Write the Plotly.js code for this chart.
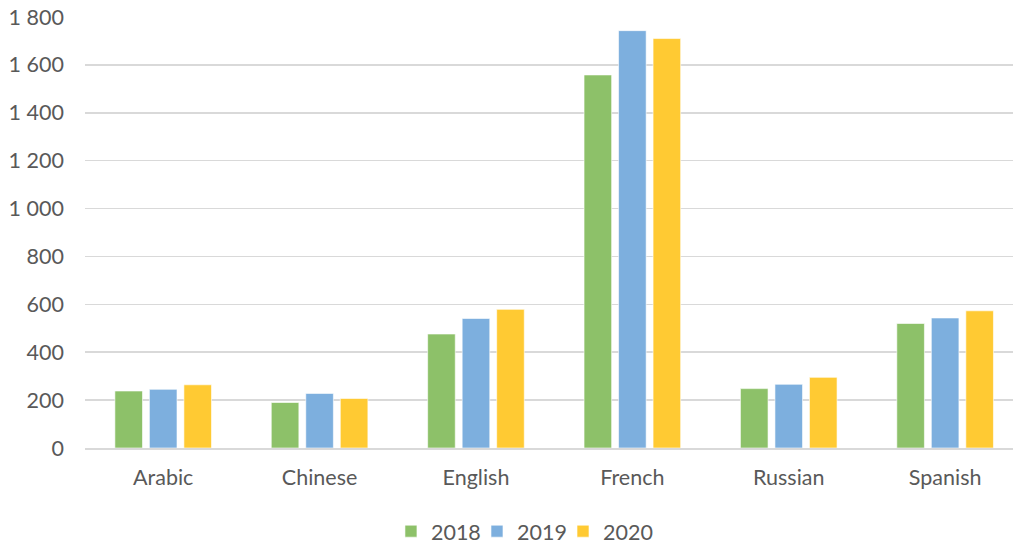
<!DOCTYPE html>
<html><head><meta charset="utf-8">
<script src="https://cdn.plot.ly/plotly-3.0.1.min.js"></script>
<style>html,body{margin:0;padding:0;background:#fff}#c{width:1013px;height:546px}</style>
</head><body><div id="c"></div>
<script>
const categories = ["Arabic","Chinese","English","French","Russian","Spanish"];
const years = ["2018","2019","2020"];
const v2018 = [238,190,476,1558,248,520];
const v2019 = [245,228,541,1743,266,543];
const v2020 = [264,207,579,1710,295,573];
const yTicks = [0,200,400,600,800,1000,1200,1400,1600,1800];
const colors = ["#8DC169","#7DAFDE","#FFCA33"];
const series = [v2018,v2019,v2020];
const legendIds = ['legend','legend2','legend3'];
const traces = series.map((s,i)=>({
  type:'bar', x:categories, y:s, name:years[i], legend:legendIds[i],
  marker:{color:colors[i], line:{color:'rgba(255,255,255,0.6)', width:1}},
  hoverinfo:'none'
}));
const font = {family:"Lato, 'Open Sans', sans-serif", size:21.5, color:'#595959'};
const legendX = [0.3297, 0.4224, 0.5151];
const lg = x => ({orientation:'h', x:x, xanchor:'left', y:-0.193, yanchor:'middle', font:font, itemwidth:30, bgcolor:'rgba(0,0,0,0)'});
Plotly.newPlot('c', traces, {
  width:1013, height:546,
  margin:{l:85,r:0,t:17,b:98, autoexpand:false},
  separators:', ',
  font:font,
  barmode:'group', bargap:0.338, bargroupgap:0.2,
  plot_bgcolor:'#fff', paper_bgcolor:'#fff',
  xaxis:{type:'category', range:[-0.5,5.434], showgrid:false, showline:true, linecolor:'#D9D9D9', linewidth:1.5, ticks:'', tickfont:font, ticklabelstandoff:10, automargin:false},
  yaxis:{range:[0,1800], tickvals:yTicks, tickformat:',d', showgrid:true, gridcolor:'#D9D9D9', gridwidth:1.5, zeroline:false, showline:false, ticks:'', tickfont:font, ticklabelstandoff:20, automargin:false},
  showlegend:true,
  legend:lg(legendX[0]), legend2:lg(legendX[1]), legend3:lg(legendX[2])
}, {staticPlot:true});
</script></body></html>
